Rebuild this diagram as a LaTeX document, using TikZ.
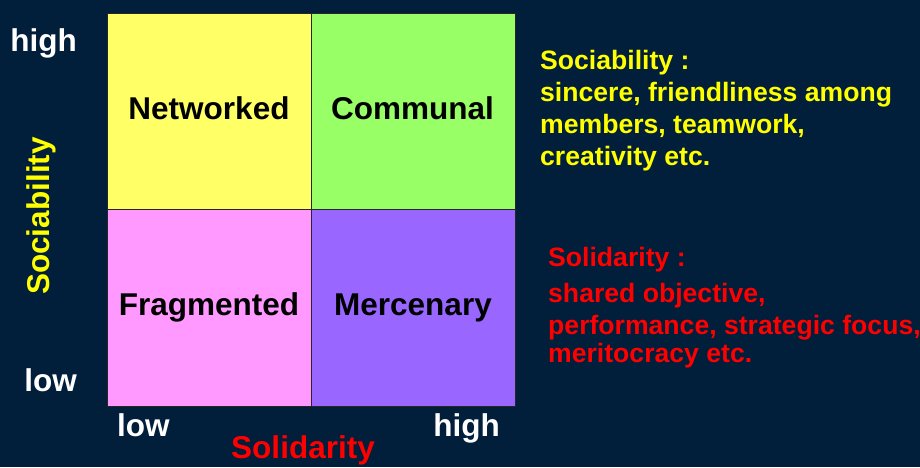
\documentclass[tikz,border=0pt]{standalone}
\usepackage{fontspec}
\setmainfont{Liberation Sans}
\definecolor{navy}{HTML}{011E3A}
\definecolor{qyellow}{HTML}{FFFF66}
\definecolor{qgreen}{HTML}{99FF66}
\definecolor{qpink}{HTML}{FF99FF}
\definecolor{qpurple}{HTML}{9966FF}
\definecolor{txtyellow}{HTML}{FFFF00}
\definecolor{txtred}{HTML}{FF0000}
\begin{document}
\begin{tikzpicture}[x=1pt,y=-1pt,
  cell/.style={draw=black!85,line width=0.8pt},
  big/.style={font=\fontsize{31.5}{34}\selectfont\bfseries,inner sep=0pt},
  note/.style={font=\fontsize{26.6}{30}\selectfont\bfseries,inner sep=0pt,anchor=base west}]
\fill[navy] (0,0) rectangle (920,467);
\useasboundingbox (0,0) rectangle (920,467);
% quadrants
\path[cell,fill=qyellow] (107,13) rectangle (311,209);
\path[cell,fill=qgreen] (311,13) rectangle (515,209);
\path[cell,fill=qpink] (107,209) rectangle (311,406);
\path[cell,fill=qpurple] (311,209) rectangle (515,406);
% quadrant names
\node[big,anchor=base] (net) at (209,119) {Networked};
\node[big,anchor=base] (com) at (412.5,119) {Communal};
\node[big,anchor=base] (fra) at (209,315) {Fragmented};
\node[big,anchor=base] (mer) at (413,315) {Mercenary};
% vertical axis
\node[big,white,anchor=base east] (yhi) at (77,51.7) {high};
\node[big,white,anchor=base east] (ylo) at (77,391.7) {low};
\node[big,txtyellow,anchor=base,rotate=90] (ylab) at (49,216) {Sociability};
% horizontal axis
\node[big,white,anchor=base west] (xlo) at (117,436.7) {low};
\node[big,white,anchor=base east] (xhi) at (500,436.7) {high};
\node[big,txtred,anchor=base] (xlab) at (303,458) {Solidarity};
% definitions
\node[note,txtyellow] (s0) at (540,69.3) {Sociability :};
\node[note,txtyellow] (s1) at (540,101.7) {sincere, friendliness among};
\node[note,txtyellow] (s2) at (540,133.3) {members, teamwork,};
\node[note,txtyellow] (s3) at (540,165) {creativity etc.};
\node[note,txtred] (r0) at (548,266.7) {Solidarity :};
\node[note,txtred] (r1) at (548,302.7) {shared objective,};
\node[note,txtred] (r2) at (548,334) {performance, strategic focus,};
\node[note,txtred] (r3) at (548,362.3) {meritocracy etc.};
\end{tikzpicture}
\end{document}
